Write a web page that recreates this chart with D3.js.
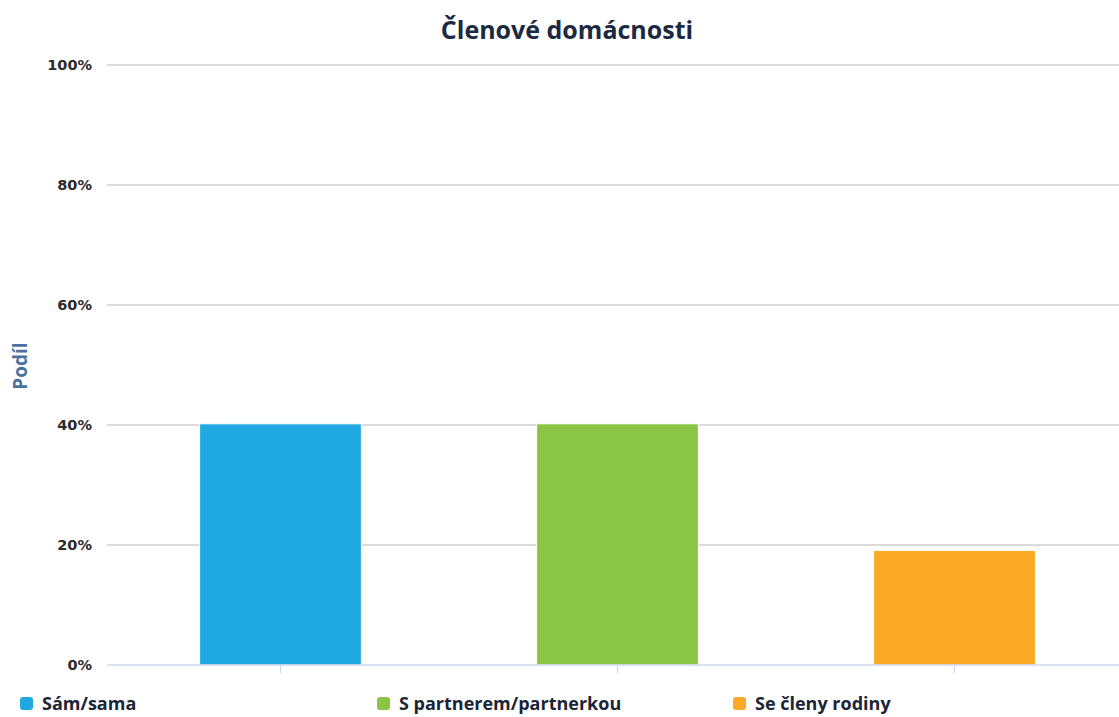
<!DOCTYPE html>
<html>
<head>
<meta charset="utf-8">
<script src="https://cdn.jsdelivr.net/npm/d3@7"></script>
<style>
  html, body { margin: 0; padding: 0; background: #fff; }
  svg { display: block; font-family: "Open Sans", "DejaVu Sans", sans-serif; }
</style>
</head>
<body>
<svg id="chart" width="1119" height="717"></svg>
<script>
// Household members: share of respondents by living arrangement
const categories = ["Sám/sama", "S partnerem/partnerkou", "Se členy rodiny"];
const shares = [40.2, 40.2, 19.1];
const colors = ["#1fa9e0", "#8bc545", "#fbaa25"];
const yTicks = [0, 20, 40, 60, 80, 100];

const svg = d3.select("#chart");
const plot = { left: 112, right: 1123, top: 65, bottom: 665 };
const gridLeft = 107, gridRight = 1119;

const x = d3.scaleBand()
  .domain(categories)
  .range([plot.left, plot.right])
  .paddingInner(0.52)
  .paddingOuter(0.26);

const y = d3.scaleLinear().domain([0, 100]).range([plot.bottom, plot.top]);

// title
svg.append("text")
  .attr("x", 567).attr("y", 39)
  .attr("text-anchor", "middle")
  .attr("font-size", 25).attr("font-weight", 700)
  .attr("fill", "#1b2a41")
  .text("Členové domácnosti");

// horizontal gridlines
svg.append("g").selectAll("line")
  .data(yTicks.filter(d => d > 0))
  .join("line")
  .attr("x1", gridLeft).attr("x2", gridRight)
  .attr("y1", d => y(d)).attr("y2", d => y(d))
  .attr("stroke", "#cfcfcf").attr("stroke-width", 1.5);

// y axis labels
const yAxis = d3.axisLeft(y).tickValues(yTicks).tickFormat(d => d + "%").tickSize(0).tickPadding(0);
const gy = svg.append("g").attr("transform", "translate(92,0)").call(yAxis);
gy.select(".domain").remove();
gy.selectAll("text")
  .attr("font-size", 14.5).attr("font-weight", 700)
  .attr("fill", "#2b2b2b")
  .attr("font-family", "'DejaVu Sans', sans-serif");

// y axis title
svg.append("text")
  .attr("transform", "translate(27,366) rotate(-90)")
  .attr("text-anchor", "middle")
  .attr("font-size", 19).attr("font-weight", 700)
  .attr("fill", "#4a72a0")
  .text("Podíl");

// bars
svg.append("g").selectAll("rect")
  .data(categories)
  .join("rect")
  .attr("x", d => x(d))
  .attr("width", x.bandwidth())
  .attr("y", (d, i) => y(shares[i]))
  .attr("height", (d, i) => y(0) - y(shares[i]))
  .attr("fill", (d, i) => colors[i])
  .attr("stroke", "#ffffff").attr("stroke-width", 1);

// x axis baseline and ticks
const xAxis = d3.axisBottom(x).tickSize(8).tickFormat("");
const gx = svg.append("g").attr("transform", `translate(0,${plot.bottom})`).call(xAxis);
gx.select(".domain").remove();
gx.selectAll(".tick line").attr("stroke", "#ccd6eb").attr("stroke-width", 1.2);
svg.append("line")
  .attr("x1", gridLeft).attr("x2", gridRight)
  .attr("y1", plot.bottom).attr("y2", plot.bottom)
  .attr("stroke", "#ccd6eb").attr("stroke-width", 1.5);

// legend
const legendX = [20, 377, 733];
const legend = svg.append("g").selectAll("g")
  .data(categories)
  .join("g")
  .attr("transform", (d, i) => `translate(${legendX[i]},697)`);
legend.append("rect")
  .attr("width", 13).attr("height", 13).attr("rx", 3)
  .attr("fill", (d, i) => colors[i]);
legend.append("text")
  .attr("x", 22).attr("y", 13)
  .attr("font-size", 18).attr("font-weight", 700)
  .attr("fill", "#1b2535")
  .text(d => d);
</script>
</body>
</html>
